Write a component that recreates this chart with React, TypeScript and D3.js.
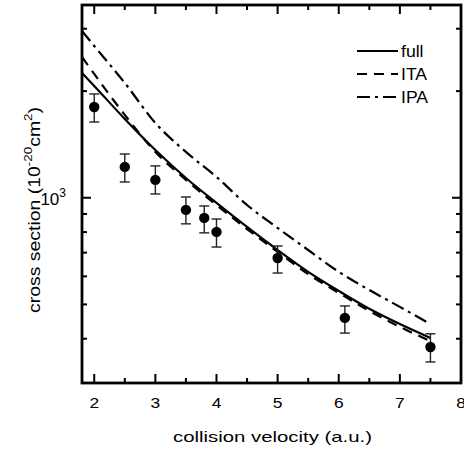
import React from "react";
import * as d3 from "d3";

// ---- data ----
const curveX = [1.8, 2.0, 2.5, 3.0, 3.5, 4.0, 4.5, 5.0, 5.5, 6.0, 6.5, 7.0, 7.5];
const fullY = [2250, 2068, 1669, 1364, 1137, 967, 827, 712, 618, 546, 486, 440, 402];
const itaY = [2497, 2236, 1713, 1347, 1123, 954, 816, 703, 609, 539, 479, 432, 394];
const ipaY = [2957, 2682, 2109, 1626, 1347, 1145, 954, 822, 712, 618, 549, 492, 440];

const expX = [2.0, 2.5, 3.0, 3.5, 3.8, 4.0, 5.0, 6.1, 7.5];
const expY = [1804, 1222, 1123, 924, 877, 801, 676, 458, 379];
const expLo = [1636, 1108, 1025, 844, 796, 726, 613, 415, 344];
const expHi = [1963, 1329, 1230, 1005, 948, 871, 731, 495, 413];

const xMajor = [2, 3, 4, 5, 6, 7, 8];
const xMinor = [2.5, 3.5, 4.5, 5.5, 6.5, 7.5];
const yMinor = [400, 500, 600, 700, 800, 900, 2000, 3000];
const yMajor = [1000];

const legendItems = [
  { name: "full", dash: "" },
  { name: "ITA", dash: "10,7" },
  { name: "IPA", dash: "13,5,3,5" },
];

const W = 464, H = 449;
const L = 82, R = 461, T = 5, B = 383;
const FONT = "'Liberation Sans', Arial, Helvetica, sans-serif";

export default function App() {
  const x = d3.scaleLinear().domain([1.8, 8]).range([L, R]);
  const y = d3.scaleLog().domain([300, 3500]).range([B, T]);
  const line = d3
    .line<[number, number]>()
    .x((d) => x(d[0]))
    .y((d) => y(d[1]))
    .curve(d3.curveMonotoneX);
  const series = [fullY, itaY, ipaY].map((ys) => curveX.map((cx, i) => [cx, ys[i]] as [number, number]));

  const majLen = 9, minLen = 5;

  return (
    <svg width={W} height={H} style={{ position: "absolute", left: 0, top: 0, background: "#fff" }} fontFamily={FONT}>
      <rect x={0} y={0} width={W} height={H} fill="#fff" />
      <defs>
        <clipPath id="plot">
          <rect x={L} y={T} width={R - L} height={B - T} />
        </clipPath>
      </defs>
      {/* curves */}
      <g clipPath="url(#plot)" fill="none" stroke="#000" strokeWidth={2.2}>
        {series.map((s, i) => (
          <path key={i} d={line(s) || ""} strokeDasharray={legendItems[i].dash || undefined} />
        ))}
      </g>
      {/* experimental points */}
      <g>
        {expX.map((ex, i) => (
          <g key={i} stroke="#222" strokeWidth={1.4}>
            <line x1={x(ex)} x2={x(ex)} y1={y(expLo[i])} y2={y(expHi[i])} />
            <line x1={x(ex) - 5} x2={x(ex) + 5} y1={y(expLo[i])} y2={y(expLo[i])} />
            <line x1={x(ex) - 5} x2={x(ex) + 5} y1={y(expHi[i])} y2={y(expHi[i])} />
            <circle cx={x(ex)} cy={y(expY[i])} r={5.2} fill="#000" stroke="none" />
          </g>
        ))}
      </g>
      {/* ticks */}
      <g stroke="#000" strokeWidth={2}>
        {xMajor.map((v) => (
          <g key={"xM" + v}>
            <line x1={x(v)} x2={x(v)} y1={B} y2={B - majLen} />
            <line x1={x(v)} x2={x(v)} y1={T} y2={T + majLen} />
          </g>
        ))}
        {xMinor.map((v) => (
          <g key={"xm" + v}>
            <line x1={x(v)} x2={x(v)} y1={B} y2={B - minLen} />
            <line x1={x(v)} x2={x(v)} y1={T} y2={T + minLen} />
          </g>
        ))}
        {yMajor.map((v) => (
          <g key={"yM" + v}>
            <line x1={L} x2={L + majLen} y1={y(v)} y2={y(v)} />
            <line x1={R} x2={R - majLen} y1={y(v)} y2={y(v)} />
          </g>
        ))}
        {yMinor.map((v) => (
          <g key={"ym" + v}>
            <line x1={L} x2={L + minLen} y1={y(v)} y2={y(v)} />
            <line x1={R} x2={R - minLen} y1={y(v)} y2={y(v)} />
          </g>
        ))}
      </g>
      {/* frame */}
      <rect x={L} y={T} width={R - L} height={B - T} fill="none" stroke="#000" strokeWidth={2.8} />
      {/* x tick labels */}
      <g fontSize={14.5} textAnchor="middle" fill="#000">
        {xMajor.map((v) => (
          <text key={"xl" + v} transform={`translate(${x(v)},408) scale(1.2,1)`}>
            {v}
          </text>
        ))}
      </g>
      {/* y tick label */}
      {yMajor.map((v) => (
        <text key={"yl" + v} x={66} y={205} fontSize={17} textAnchor="end" fill="#000">
          10
          <tspan fontSize={12} dy={-8}>
            3
          </tspan>
        </text>
      ))}
      {/* axis titles */}
      <text x={173} y={442} fontSize={15} textLength={199} lengthAdjust="spacingAndGlyphs" fill="#000">
        collision velocity (a.u.)
      </text>
      <text transform="translate(40,313) rotate(-90)" fontSize={16} textLength={206} lengthAdjust="spacingAndGlyphs" fill="#000">
        cross section (10
        <tspan fontSize={11} dy={-8}>-20</tspan>
        <tspan dy={8}>cm</tspan>
        <tspan fontSize={11} dy={-8}>2</tspan>
        <tspan dy={8}>)</tspan>
      </text>
      {/* legend */}
      <g>
        {legendItems.map((it, i) => {
          const ly = 51 + i * 23;
          return (
            <g key={it.name}>
              <line x1={357} x2={398} y1={ly} y2={ly} stroke="#000" strokeWidth={2.2} strokeDasharray={it.dash || undefined} />
              <text transform={`translate(401,${ly + 6}) scale(1.1,1)`} fontSize={16} fill="#000">
                {it.name}
              </text>
            </g>
          );
        })}
      </g>
    </svg>
  );
}
